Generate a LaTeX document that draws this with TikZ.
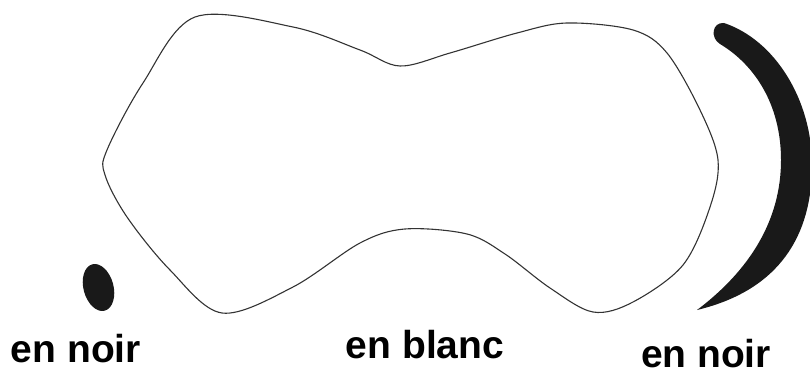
\documentclass[tikz,border=0pt]{standalone}
\usepackage{fontspec}
\setmainfont{Liberation Sans}
\tikzset{
	contour/.style={draw=black!80, line width=1.1pt},
	tache/.style={fill=black!90, draw=none},
	legende/.style={font=\fontsize{39}{40}\bfseries, inner sep=0pt, anchor=base}
}
\begin{document}
\begin{tikzpicture}[x=1pt, y=-1pt]
	\useasboundingbox (0,0) rectangle (810,374);
	
	% Forme en blanc (contour seul)
	\draw[contour] plot[smooth cycle, tension=0.55] coordinates {
		(195,17) (293,27) (360,50) (400,66) (450,53) (517,33) (567,23)
		(633,30) (667,53) (700,110) (718,160) (710,207) (683,265) (633,302)
		(593,312) (550,288) (505,254) (467,234) (405,229) (360,243)
		(293,287) (222,313) (170,270) (127,217) (105,175) (107,150) (143,83)};
	
	% Tache en noir, a gauche
	\fill[tache, rotate around={15:(98.5,287.5)}] (98.5,287.5) ellipse (15 and 24);
	
	% Croissant en noir, a droite
	\fill[tache] (724,23) .. controls (775,40) and (812,100) .. (812,165)
		.. controls (812,235) and (780,290) .. (697,310)
		.. controls (750,270) and (781,220) .. (781,160)
		.. controls (781,105) and (755,65) .. (720,44)
		.. controls (710,38) and (712,22) .. cycle;
	
	% Legendes
	\node[legende] (noirG) at (76,362) {en noir};
	\node[legende] (blanc) at (425,358) {en blanc};
	\node[legende] (noirD) at (706,367) {en noir};
	
\end{tikzpicture}
\end{document}
